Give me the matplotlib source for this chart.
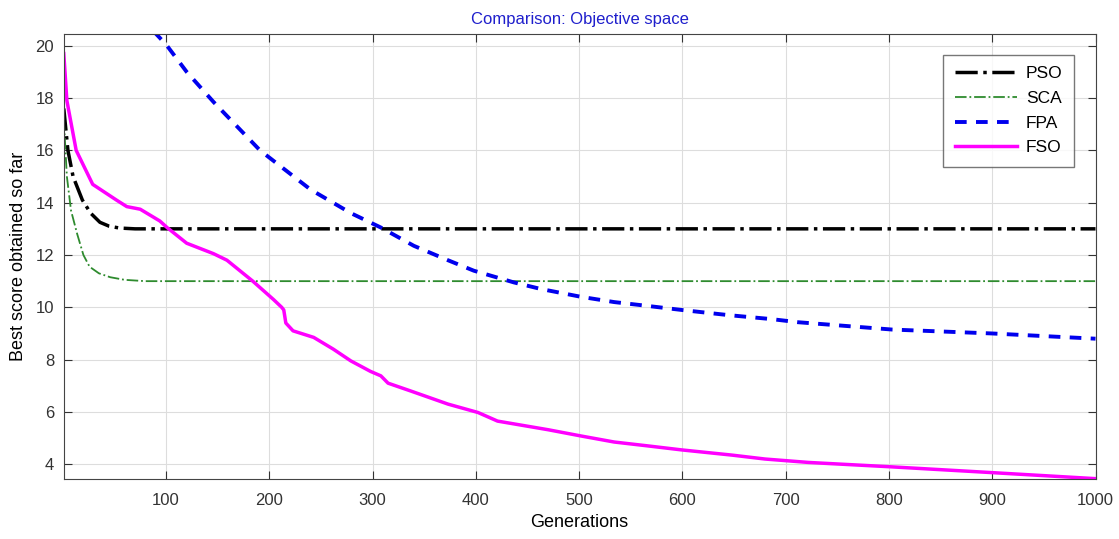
import matplotlib.pyplot as plt

plt.rcParams['font.family'] = ['Liberation Sans', 'DejaVu Sans']

# Convergence curves (generation, best score)
pso_gen = [1, 5, 10, 19, 27, 36, 45, 55, 70, 100, 1000]
pso_val = [17.6, 16.0, 15.0, 14.1, 13.6, 13.25, 13.1, 13.03, 13.0, 13.0, 13.0]

sca_gen = [1, 4, 8, 14, 20, 26, 35, 46, 60, 80, 1000]
sca_val = [17.2, 15.0, 13.7, 12.8, 12.0, 11.55, 11.3, 11.15, 11.05, 11.0, 11.0]

fpa_gen = [1, 40, 70, 100, 120, 146, 191, 240, 279, 308, 340, 373, 398,
           437, 463, 502, 534, 567, 599, 645, 686, 712, 803, 900, 1000]
fpa_val = [27.0, 23.0, 21.3, 20.05, 19.0, 17.85, 16.0, 14.5, 13.6, 13.05,
           12.35, 11.8, 11.4, 10.95, 10.7, 10.4, 10.2, 10.05, 9.9, 9.7,
           9.55, 9.43, 9.15, 9.0, 8.8]

fso_gen = [1, 4, 13, 29, 52, 62, 75, 94, 101, 120, 146, 159, 184, 204, 212,
           214, 216, 223, 243, 262, 279, 298, 308, 315, 337, 373, 402, 421,
           470, 502, 534, 567, 599, 648, 680, 722, 803, 900, 1000]
fso_val = [19.7, 17.9, 16.0, 14.7, 14.1, 13.85, 13.75, 13.3, 13.05, 12.45,
           12.05, 11.8, 11.0, 10.3, 10.0, 9.9, 9.4, 9.1, 8.85, 8.4, 7.95,
           7.55, 7.38, 7.1, 6.8, 6.3, 5.98, 5.65, 5.32, 5.08, 4.85, 4.7,
           4.55, 4.35, 4.2, 4.07, 3.9, 3.68, 3.45]

fig = plt.figure(figsize=(11.19, 5.39), dpi=100)
ax = fig.add_axes([0.057, 0.111, 0.922, 0.826])

ax.plot(pso_gen, pso_val, color='black', linestyle='-.', linewidth=2.5, label='PSO')
ax.plot(sca_gen, sca_val, color='#2e8b2e', linestyle='-.', linewidth=1.3, label='SCA')
ax.plot(fpa_gen, fpa_val, color='#0000ee', linestyle=(0, (3, 2.4)), linewidth=2.8, label='FPA')
ax.plot(fso_gen, fso_val, color='#ff00ff', linestyle='-', linewidth=2.5, label='FSO')

ax.set_xlim(1, 1000)
ax.set_ylim(3.43, 20.45)
ax.set_xticks(range(100, 1001, 100))
ax.set_yticks(range(4, 21, 2))
ax.tick_params(direction='in', top=True, right=True, labelsize=12, colors='#333333', length=6)
ax.tick_params(axis='x', pad=10)
ax.tick_params(axis='y', pad=7)
ax.grid(True, color='#dddddd', linewidth=0.8)
for s in ax.spines.values():
    s.set_color('#444444')

ax.set_title('Comparison: Objective space', color='#1f1fcc', fontsize=12, pad=7)
ax.set_xlabel('Generations', fontsize=13, labelpad=4)
ax.set_ylabel('Best score obtained so far', fontsize=13, labelpad=6)

leg = ax.legend(loc='upper right', bbox_to_anchor=(0.979, 0.953), fontsize=12.5,
                fancybox=False, edgecolor='#555555', handlelength=3.6,
                borderpad=0.65, labelspacing=0.55, handletextpad=0.5,
                borderaxespad=0)
leg.get_frame().set_linewidth(1)

plt.savefig('out.png')
